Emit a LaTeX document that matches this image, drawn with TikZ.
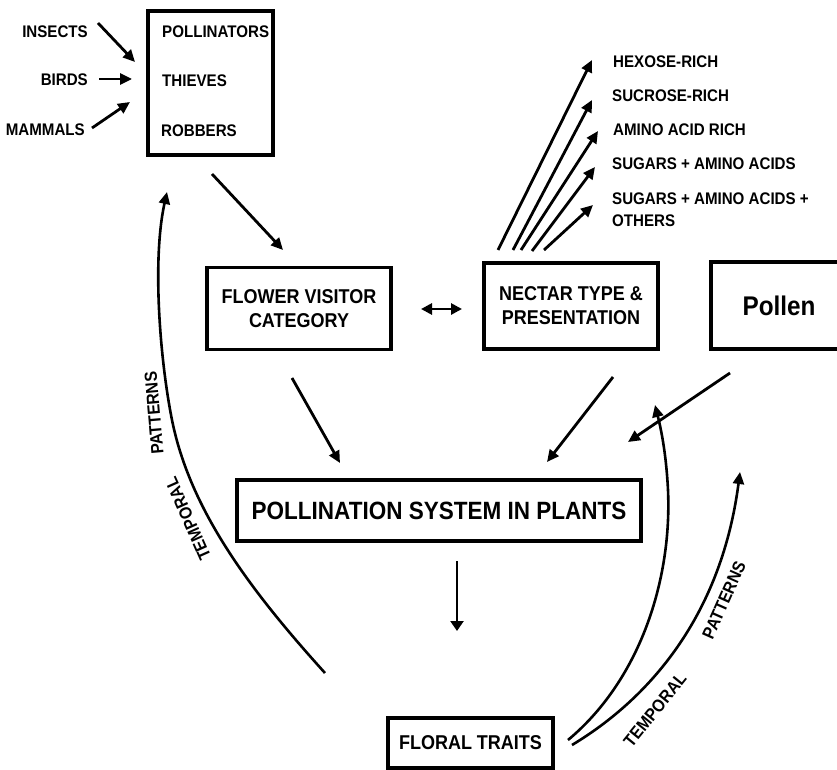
\documentclass[tikz,border=0pt]{standalone}
\usepackage{fontspec}
\setmainfont{Liberation Sans}[FakeStretch=0.9]
\usetikzlibrary{arrows.meta}
\begin{document}
\begin{tikzpicture}[x=1pt,y=-1pt,
  boxnode/.style={draw,line width=3.2pt,inner sep=0pt,align=center},
  lbl/.style={inner sep=0pt,font=\fontsize{16.8}{20}\selectfont\bfseries},
  midtxt/.style={font=\fontsize{20}{24}\selectfont\bfseries},
  arr/.style={line width=2.8pt,-{Triangle[length=12pt,width=11pt]}},
  curvearr/.style={line width=2.6pt,-{Triangle[length=12pt,width=11pt]}},
  rottxt/.style={inner sep=0pt,font=\fontsize{17.5}{20}\selectfont\bfseries}]
\useasboundingbox (0,0) rectangle (837,770);
\clip (0,0) rectangle (837,770);

% left labels
\node[lbl,anchor=east] (ins) at (88,32) {INSECTS};
\node[lbl,anchor=east] (bir) at (88,80) {BIRDS};
\node[lbl,anchor=east] (mam) at (85,130) {MAMMALS};

% visitor box
\node[boxnode,minimum width=125pt,minimum height=144pt] (vis) at (210.5,83) {};
\node[lbl,anchor=west] (pol) at (162,32) {POLLINATORS};
\node[lbl,anchor=west] (thi) at (162,81) {THIEVES};
\node[lbl,anchor=west] (rob) at (161,131) {ROBBERS};

\coordinate (insS) at (98,23);  \coordinate (insE) at (135,62);
\coordinate (birS) at (99,79);  \coordinate (birE) at (132,79);
\coordinate (mamS) at (92,128); \coordinate (mamE) at (130,102);
\draw[arr] (insS) -- (insE);
\draw[arr] (birS) -- (birE);
\draw[arr] (mamS) -- (mamE);

% main boxes
\node[boxnode,midtxt,minimum width=184pt,minimum height=82pt] (fvc) at (299,308.5) {FLOWER VISITOR\\CATEGORY};
\node[boxnode,midtxt,minimum width=174pt,minimum height=86pt] (nec) at (571,306) {NECTAR TYPE \&\\PRESENTATION};
\node[boxnode,minimum width=136pt,minimum height=87pt,font=\fontsize{27}{30}\selectfont\bfseries] (pln) at (779,305.5) {Pollen};
\node[boxnode,minimum width=404pt,minimum height=61pt,font=\fontsize{25}{30}\selectfont\bfseries] (sys) at (439,510.5) {POLLINATION SYSTEM IN PLANTS};
\node[boxnode,midtxt,minimum width=165pt,minimum height=50pt] (flt) at (470.5,743) {FLORAL TRAITS};

% nectar type labels
\node[lbl,anchor=west] (hex) at (613,62) {HEXOSE-RICH};
\node[lbl,anchor=west] (suc) at (612,96) {SUCROSE-RICH};
\node[lbl,anchor=west] (ami) at (613,130) {AMINO ACID RICH};
\node[lbl,anchor=west] (sug) at (612,164) {SUGARS + AMINO ACIDS};
\node[lbl,anchor=west,align=left,font=\fontsize{16.8}{22}\selectfont\bfseries] (oth) at (612,210) {SUGARS + AMINO ACIDS +\\OTHERS};

\coordinate (f1) at (498,250); \coordinate (t1) at (592,60);
\coordinate (f2) at (513,250); \coordinate (t2) at (592,100);
\coordinate (f3) at (521,250); \coordinate (t3) at (598,131);
\coordinate (f4) at (532,251); \coordinate (t4) at (595,167);
\coordinate (f5) at (544,250); \coordinate (t5) at (593,205);
\foreach \i in {1,...,5} \draw[arr] (f\i) -- (t\i);

% connectors
\coordinate (a1) at (212,174); \coordinate (a2) at (283,250);
\draw[arr] (a1) -- (a2);
\coordinate (dl) at (421,309); \coordinate (dr) at (462,309);
\draw[line width=2.8pt,{Triangle[length=11pt,width=11pt]}-{Triangle[length=11pt,width=11pt]}] (dl) -- (dr);
\coordinate (b1) at (292,378); \coordinate (b2) at (340,463);
\draw[arr] (b1) -- (b2);
\coordinate (c1) at (613,377); \coordinate (c2) at (547,462);
\draw[arr] (c1) -- (c2);
\coordinate (d1) at (730,373); \coordinate (d2) at (628,442);
\draw[arr] (d1) -- (d2);
\coordinate (e1) at (457,561); \coordinate (e2) at (457,631);
\draw[line width=2.4pt,-{Triangle[length=10pt,width=13pt]}] (e1) -- (e2);

% temporal pattern arcs
\coordinate (lA) at (325,673); \coordinate (lB) at (167,192);
\draw[curvearr] (lA) .. controls (250,590) and (190,510) .. (172,420)
                     .. controls (160,360) and (152,260) .. (lB);
\coordinate (rA) at (568,740); \coordinate (rB) at (655,405);
\draw[curvearr] (rA) .. controls (640,680) and (672,580) .. (668,490)
                     .. controls (666,450) and (660,425) .. (rB);
\coordinate (sA) at (572,745); \coordinate (sB) at (740,472);
\draw[curvearr] (sA) .. controls (655,695) and (722,610) .. (sB);

\node[rottxt,rotate=114] (lt1) at (188,519) {TEMPORAL};
\node[rottxt,rotate=95] (lt2) at (154,413) {PATTERNS};
\node[rottxt,rotate=51] (rt1) at (655,710) {TEMPORAL};
\node[rottxt,rotate=66] (rt2) at (724,600) {PATTERNS};
\end{tikzpicture}
\end{document}
